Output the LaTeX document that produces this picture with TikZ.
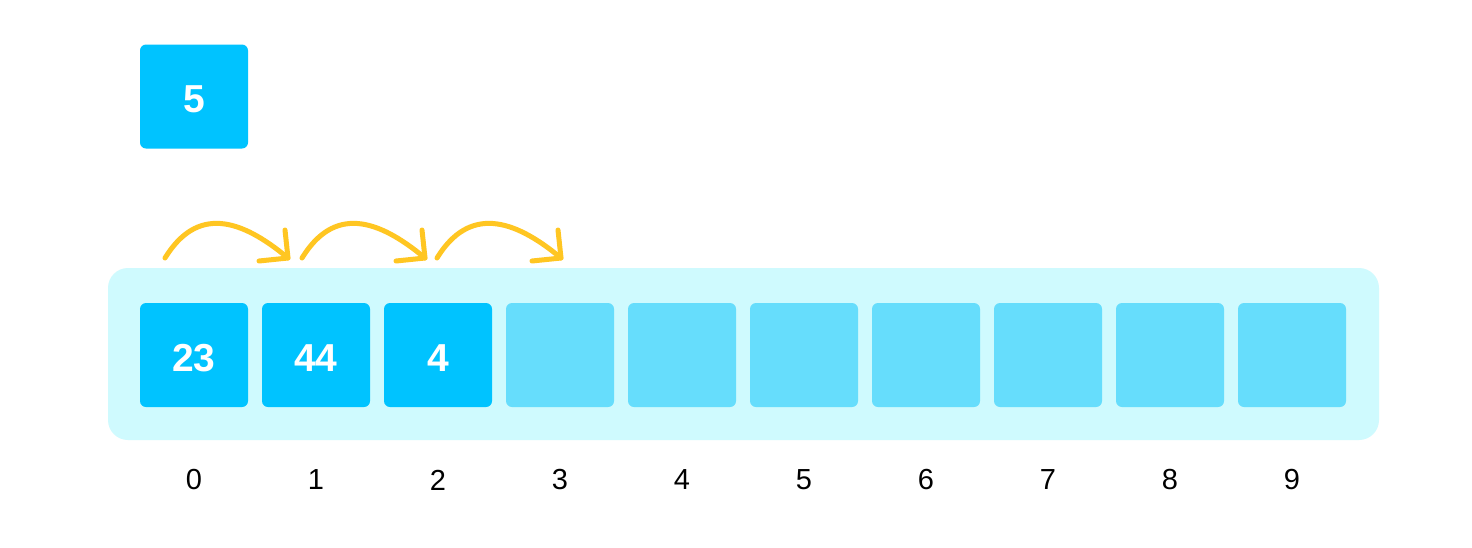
\documentclass[tikz,border=0pt]{standalone}
\usepackage{fontspec}
\setmainfont{Liberation Sans}
\usetikzlibrary{calc}
\definecolor{cellfull}{HTML}{00C3FF}
\definecolor{cellempty}{HTML}{66DDFC}
\definecolor{bgpanel}{HTML}{CFFAFE}
\definecolor{arrowyel}{HTML}{FFC622}
\tikzset{
  cell/.style={minimum width=108pt,minimum height=104pt,inner sep=0pt,rounded corners=6pt},
  fullcell/.style={cell,fill=cellfull},
  emptycell/.style={cell,fill=cellempty},
  val/.style={inner sep=0pt,text=white,font=\fontsize{39}{42}\selectfont\bfseries},
  idx/.style={inner sep=0pt,font=\fontsize{29}{32}\selectfont,text=black},
  hop/.style={draw=arrowyel,line width=5pt,line cap=round,line join=round},
}
\begin{document}
\begin{tikzpicture}[x=1pt,y=-1pt]
\useasboundingbox (0,0) rectangle (1472,547);
\fill[white] (0,0) rectangle (1472,547);
\node[fill=bgpanel,rounded corners=20pt,minimum width=1271pt,minimum height=172pt,inner sep=0pt] (panel) at (743.5,354) {};
\node[fullcell] (top) at (194,96.5) {};
\node[val] (topv) at (194,99.5) {5};
\foreach \i/\v in {0/23,1/44,2/4}{
  \node[fullcell] (c\i) at (194+122*\i,355) {};
  \node[val] (v\i) at (194+122*\i,358.5) {\v};
}
\foreach \i in {3,...,9}{
  \node[emptycell] (c\i) at (194+122*\i,355) {};
}
\foreach \i in {0,...,9}{
  \node[idx] (l\i) at (194+122*\i,480) {\i};
}
\foreach \k/\a/\b in {0/165/288,1/302/425,2/437/561}{
  \coordinate (s\k) at (\a,258);
  \coordinate (t\k) at (\b,258);
  \draw[hop] (s\k) .. controls +(32,-52) and +(-48,-40) .. (t\k);
  \draw[hop] ($(t\k)+(-3,-28)$) -- (t\k) -- ($(t\k)+(-29,3)$);
}
\end{tikzpicture}
\end{document}
